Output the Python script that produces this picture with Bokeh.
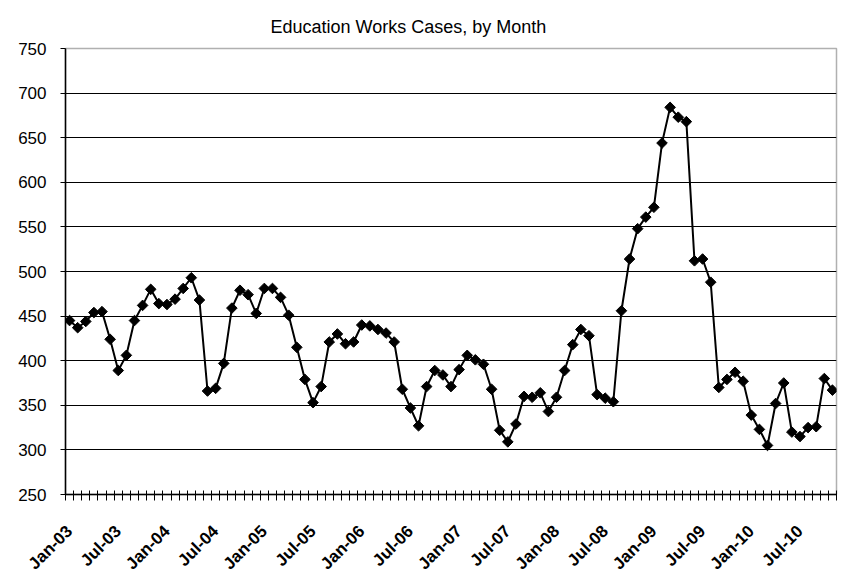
import math
from bokeh.plotting import figure
from bokeh.models import Range1d, FixedTicker, ColumnDataSource
from bokeh.embed import file_html
from bokeh.resources import INLINE

# ---- data ----
years = ["03", "04", "05", "06", "07", "08", "09", "10"]
month_names = ["Jan", "Feb", "Mar", "Apr", "May", "Jun",
               "Jul", "Aug", "Sep", "Oct", "Nov", "Dec"]
months = [f"{m}-{y}" for y in years for m in month_names][:95]  # Jan-03 .. Nov-10

cases_2003_2004 = [445, 437, 444, 454, 455, 424, 389, 406, 445, 462, 480, 464,
                   463, 469, 481, 493, 468, 366, 369, 397, 459, 479, 474, 453]
cases_2005_2006 = [481, 481, 471, 451, 415, 379, 353, 371, 421, 430, 419, 421,
                   440, 439, 435, 431, 421, 368, 347, 327, 371, 389, 384, 371]
cases_2007_2008 = [390, 406, 401, 396, 368, 322, 309, 329, 360, 359, 364, 343,
                   359, 389, 418, 435, 428, 362, 358, 354, 456, 514, 548, 561]
cases_2009_2010 = [572, 644, 684, 673, 668, 512, 514, 488, 370, 379, 387, 377,
                   339, 323, 305, 352, 375, 320, 315, 325, 326, 380, 367]
cases = cases_2003_2004 + cases_2005_2006 + cases_2007_2008 + cases_2009_2010

y_ticks = [250, 300, 350, 400, 450, 500, 550, 600, 650, 700, 750]
label_every = 6

# ---- figure ----
idx = list(range(len(months)))
src = ColumnDataSource(dict(x=idx, y=cases, month=months))

p = figure(frame_width=771, frame_height=446,
           min_border_left=65, min_border_right=2,
           min_border_top=48, min_border_bottom=80,
           x_range=Range1d(-0.5, len(months) - 0.5),
           y_range=Range1d(250, 750),
           output_backend="svg", toolbar_location=None,
           title="Education Works Cases, by Month")

p.title.text_font = "Liberation Sans"
p.title.text_font_size = "18px"
p.title.text_font_style = "normal"
p.title.align = "left"
p.title.offset = 205
p.title.standoff = 23
p.title.text_color = "black"

p.outline_line_color = "#b0b0b0"
p.outline_line_width = 1.5
p.background_fill_color = "white"
p.border_fill_color = "white"

# y axis
p.yaxis.ticker = FixedTicker(ticks=y_ticks)
p.yaxis.major_label_text_font = "Liberation Sans"
p.yaxis.major_label_text_font_size = "17px"
p.yaxis.major_label_text_color = "black"
p.yaxis.axis_line_color = "black"
p.yaxis.axis_line_width = 1.5
p.yaxis.major_tick_line_color = "black"
p.yaxis.major_tick_in = 0
p.yaxis.major_tick_out = 5
p.yaxis.minor_tick_line_color = None
p.yaxis.major_label_standoff = 14

# x axis: tick marks at month boundaries, labels every 6 months
label_idx = idx[::label_every]
minor = [i - 0.5 for i in range(len(months) + 1)]
p.xaxis.ticker = FixedTicker(ticks=label_idx, minor_ticks=minor)
p.xaxis.major_label_overrides = {i: months[i] for i in label_idx}
p.xaxis.major_label_orientation = math.pi / 4
p.xaxis.major_label_text_font = "Liberation Sans"
p.xaxis.major_label_text_font_size = "17px"
p.xaxis.major_label_text_font_style = "bold"
p.xaxis.major_label_text_color = "black"
p.xaxis.major_label_standoff = 28
p.xaxis.axis_line_color = "black"
p.xaxis.axis_line_width = 1.5
p.xaxis.major_tick_line_color = None
p.xaxis.major_tick_in = 0
p.xaxis.major_tick_out = 0
p.xaxis.minor_tick_line_color = "black"
p.xaxis.minor_tick_in = 4
p.xaxis.minor_tick_out = 6
p.xaxis.minor_tick_line_width = 1

# grid
p.xgrid.grid_line_color = None
p.ygrid.ticker = FixedTicker(ticks=y_ticks[1:-1])
p.ygrid.grid_line_color = "black"
p.ygrid.grid_line_width = 1.2

# series
p.line("x", "y", source=src, line_color="black", line_width=2)
p.scatter("x", "y", source=src, marker="square", angle=math.pi / 4, size=7.5,
          fill_color="black", line_color="black")

open("out.html", "w").write(file_html(p, INLINE))
